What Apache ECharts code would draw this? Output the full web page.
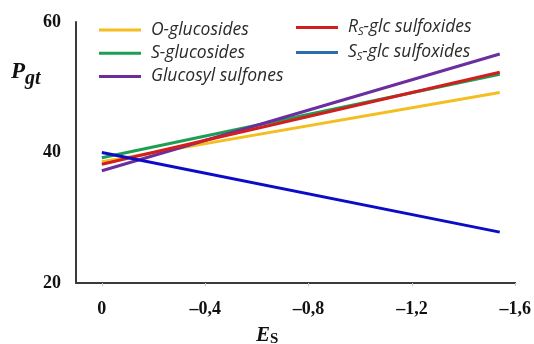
<!DOCTYPE html>
<html>
<head>
<meta charset="utf-8">
<script src="https://cdn.jsdelivr.net/npm/echarts@6/dist/echarts.min.js"></script>
<style>html,body{margin:0;padding:0;background:#fff}#c{width:534px;height:344px}</style>
</head>
<body>
<div id="c"></div>
<script>
// ---- data ----
const xValues = [0, -1.54];
const seriesNames = ['O-glucosides', 'S-glucosides', 'Glucosyl sulfones', 'RS-glc sulfoxides', 'SS-glc sulfoxides'];
const oGlucosides = [38.6, 49.2];
const sGlucosides = [39.2, 52.0];
const glucosylSulfones = [37.2, 55.1];
const rsSulfoxides = [38.2, 52.3];
const ssSulfoxides = [40.0, 27.8];
const xTicks = [0, -0.4, -0.8, -1.2, -1.6];
const yTicks = [20, 40, 60];

const seriesValues = [oGlucosides, sGlucosides, glucosylSulfones, rsSulfoxides, ssSulfoxides];
const lineColors = ['#F4BE22', '#1E9E54', '#6A2E9E', '#D21E1E', '#0C0CC6'];
const legendColors = ['#F4BE22', '#1E9E54', '#6A2E9E', '#D21E1E', '#2C6DAE'];

const chart = echarts.init(document.getElementById('c'), null, {renderer: 'canvas'});

const richStyles = {
  i: {fontStyle: 'italic', fontSize: 17.5, fontFamily: 'Open Sans', color: '#2a2a2a'},
  sub: {fontStyle: 'italic', fontSize: 11, fontFamily: 'Open Sans', color: '#2a2a2a', padding: [8, 0, 0, 0]}
};
function legendFmt(name) {
  if (name === 'RS-glc sulfoxides') return '{i|R}{sub|S}{i|-glc sulfoxides}';
  if (name === 'SS-glc sulfoxides') return '{i|S}{sub|S}{i|-glc sulfoxides}';
  return '{i|' + name + '}';
}
function legendBlock(names, left, top, gap) {
  return {
    orient: 'vertical', left: left, top: top,
    icon: 'rect', itemWidth: 42, itemHeight: 3, itemGap: gap,
    padding: 0,
    data: names.map(n => ({name: n, itemStyle: {color: legendColors[seriesNames.indexOf(n)]}})),
    formatter: legendFmt,
    textStyle: {fontSize: 17.5, lineHeight: 17, rich: richStyles, padding: [0, 0, 0, 5]}
  };
}
function fmtX(v) {
  if (!xTicks.some(t => Math.abs(t - v) < 1e-6)) return '';
  const r = Math.round(v * 10) / 10;
  if (r === 0) return '0';
  return '\u2013' + Math.abs(r).toFixed(1).replace('.', ',');
}

chart.setOption({
  animation: false,
  backgroundColor: '#fff',
  grid: {left: 76, right: 18, top: 22, bottom: 61, containLabel: false},
  legend: [
    legendBlock(seriesNames.slice(0, 3), 99, 21, 5.2),
    legendBlock(seriesNames.slice(3), 296, 18.5, 6.5)
  ],
  xAxis: {
    type: 'value', min: -1.6, max: 0.1, interval: 0.4, inverse: true,
    axisLine: {onZero: false, lineStyle: {color: '#3a3a3a', width: 2}},
    axisTick: {show: true, length: 3, lineStyle: {color: '#c8c8c8', width: 1}},
    splitLine: {show: false},
    axisLabel: {formatter: fmtX, margin: 17, fontFamily: 'Liberation Serif', fontWeight: 'bold', fontSize: 18, color: '#111', showMaxLabel: false}
  },
  yAxis: {
    type: 'value', min: yTicks[0], max: yTicks[yTicks.length - 1], interval: 20,
    axisLine: {show: true, onZero: false, lineStyle: {color: '#3a3a3a', width: 2}},
    axisTick: {show: false},
    splitLine: {show: false},
    axisLabel: {margin: 15, fontFamily: 'Liberation Serif', fontWeight: 'bold', fontSize: 18, color: '#111'}
  },
  graphic: [
    {type: 'text', left: 11, top: 61, style: {
      text: '{p|P}{s|gt}',
      rich: {
        p: {fontFamily: 'Liberation Serif', fontWeight: 'bold', fontStyle: 'italic', fontSize: 23, fill: '#111'},
        s: {fontFamily: 'Liberation Serif', fontWeight: 'bold', fontStyle: 'italic', fontSize: 20, fill: '#111', padding: [12, 0, 0, 0]}
      }}},
    {type: 'text', left: 256, top: 325, style: {
      text: '{e|E}{s|S}',
      rich: {
        e: {fontFamily: 'Liberation Serif', fontWeight: 'bold', fontStyle: 'italic', fontSize: 21, fill: '#111'},
        s: {fontFamily: 'Liberation Serif', fontWeight: 'bold', fontSize: 15, fill: '#111', padding: [8, 0, 0, 0]}
      }}}
  ],
  series: seriesNames.map((n, k) => ({
    name: n, type: 'line', symbol: 'none',
    lineStyle: {color: lineColors[k], width: 3},
    itemStyle: {color: lineColors[k]},
    data: xValues.map((x, j) => [x, seriesValues[k][j]])
  }))
});
</script>
</body>
</html>
